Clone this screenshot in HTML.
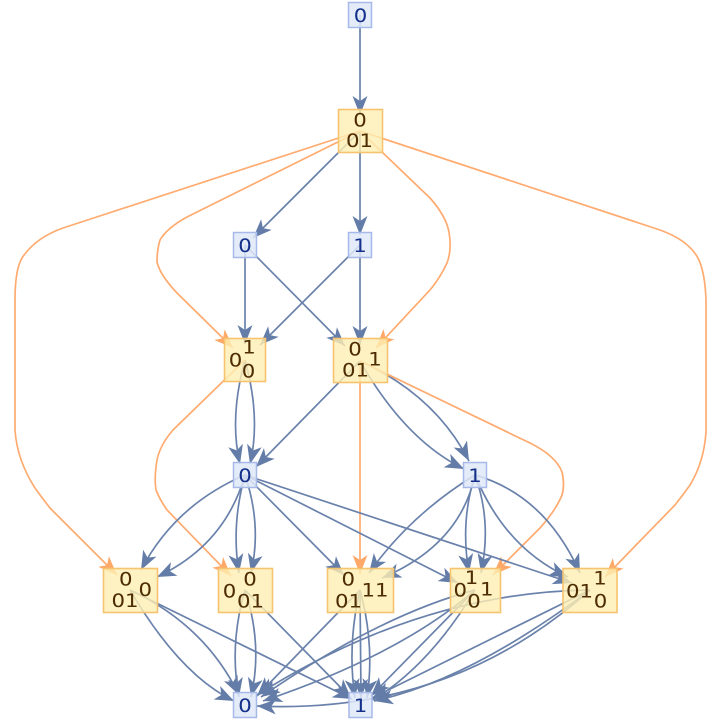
<!DOCTYPE html>
<html><head><meta charset="utf-8">
<style>
html,body{margin:0;padding:0;background:#fff;}
svg{display:block;}
.eb{fill:none;stroke:#6a82ab;stroke-width:1.7;marker-end:url(#mb);}
.eo{fill:none;stroke:#ffab70;stroke-width:1.7;marker-end:url(#mo);}
.nb{fill:#dfe7f8;fill-opacity:0.85;stroke:#a7b9e9;stroke-width:1.5;}
.ny{fill:#ffefb3;fill-opacity:0.8;stroke:#f6c46e;stroke-width:1.6;}
text{font-family:"DejaVu Sans","Liberation Sans",sans-serif;font-size:19px;text-anchor:middle;}
.tb{fill:#14308a;}
.ty{fill:#4e2c02;}
</style></head>
<body>
<svg width="720" height="720" viewBox="0 0 720 720" xmlns="http://www.w3.org/2000/svg">
<defs>
<marker id="mb" markerUnits="userSpaceOnUse" markerWidth="24" markerHeight="20" refX="19" refY="8" orient="auto" overflow="visible"><path d="M0,0.5 L19,8 L0,15.5 L5,8 Z" fill="#637ca8"/></marker>
<marker id="mo" markerUnits="userSpaceOnUse" markerWidth="24" markerHeight="20" refX="19" refY="8" orient="auto" overflow="visible"><path d="M0,0.5 L19,8 L0,15.5 L5,8 Z" fill="#ffa868"/></marker>
</defs>

<!-- edges -->
<path class="eb" d="M360,15 L360,115"/>
<path class="eb" d="M360,131 L253,238"/>
<path class="eb" d="M360,131 L360,235"/>
<path class="eo" d="M360,131 L187,217 Q167,228 160,240 Q157,250 157,262 Q160,275 177,293 L233,348"/>
<path class="eo" d="M360,131 L63,228 Q35,238 22,258 Q15,270 15,300 L15,430 Q17,460 35,488 Q42,498 50,508 L117,575"/>
<path class="eo" d="M360,131 L430,198 Q446,216 449,232 Q452,250 447,263 Q440,278 430,290 L376,348"/>
<path class="eo" d="M360,131 L660,230 Q688,240 698,258 Q705,272 706,300 L706,432 Q704,462 690,485 Q683,495 675,505 L605,577"/>
<path class="eb" d="M245,245 L245,344"/>
<path class="eb" d="M245,245 L345,346"/>
<path class="eb" d="M360,245 L260,345"/>
<path class="eb" d="M360,245 L360,345"/>
<path class="eb" d="M245,360 Q229,418 240,464"/>
<path class="eb" d="M245,360 Q261,418 250,464"/>
<path class="eo" d="M245,360 L173,430 Q160,445 157,460 Q154,478 156,490 Q160,500 167,510 L231,576"/>
<path class="eb" d="M360,361 L256,467"/>
<path class="eo" d="M360,361 L360,574"/>
<path class="eb" d="M360,361 Q405,440 464,469"/>
<path class="eb" d="M360,361 Q435,395 469,461"/>
<path class="eo" d="M360,361 L530,443 Q556,456 562,472 Q565,485 562,495 Q556,510 540,528 L493,575"/>
<path class="eb" d="M245,475 Q175,505 141,570"/>
<path class="eb" d="M245,475 Q225,545 157,577"/>
<path class="eb" d="M245,475 Q231,525 239,573"/>
<path class="eb" d="M245,475 Q262,525 251,573"/>
<path class="eb" d="M245,475 L344,575"/>
<path class="eb" d="M245,475 L458,583"/>
<path class="eb" d="M245,475 L572,583"/>
<path class="eb" d="M475,475 Q410,515 369,573"/>
<path class="eb" d="M475,475 Q460,545 382,578"/>
<path class="eb" d="M475,475 Q460,522 469,573"/>
<path class="eb" d="M475,475 Q492,522 481,573"/>
<path class="eb" d="M475,475 Q505,548 568,577"/>
<path class="eb" d="M475,475 Q545,495 580,573"/>
<path class="eb" d="M130,590 Q180,675 234,701"/>
<path class="eb" d="M130,590 Q205,625 239,695"/>
<path class="eb" d="M130,590 L352,699"/>
<path class="eb" d="M245,590 Q229,645 239,697"/>
<path class="eb" d="M245,590 Q263,645 251,697"/>
<path class="eb" d="M245,590 L351,698"/>
<path class="eb" d="M360,590 L257,696"/>
<path class="eb" d="M360,590 Q347,645 355,698"/>
<path class="eb" d="M360,590 L361,698"/>
<path class="eb" d="M360,590 Q375,645 367,698"/>
<path class="eb" d="M475,590 Q380,615 261,697"/>
<path class="eb" d="M475,590 Q400,655 263,701"/>
<path class="eb" d="M475,590 L371,696"/>
<path class="eb" d="M475,590 Q430,665 373,700"/>
<path class="eb" d="M590,590 Q420,592 257,695"/>
<path class="eb" d="M590,590 Q450,715 257,706"/>
<path class="eb" d="M590,590 L372,698"/>
<path class="eb" d="M590,590 Q470,680 374,701"/>

<!-- nodes -->
<rect class="nb" x="348.5" y="2.5" width="23" height="25"/>
<rect class="ny" x="338.5" y="109.5" width="44" height="43"/>
<rect class="nb" x="233.5" y="232.5" width="23" height="25"/>
<rect class="nb" x="348.5" y="232.5" width="23" height="25"/>
<rect class="ny" x="224.5" y="338.5" width="41" height="43"/>
<rect class="ny" x="333.5" y="338.5" width="54" height="44"/>
<rect class="nb" x="233.5" y="462.5" width="23" height="25"/>
<rect class="nb" x="463.5" y="462.5" width="23" height="25"/>
<rect class="ny" x="103.5" y="568.5" width="54" height="44"/>
<rect class="ny" x="218.5" y="568.5" width="54" height="44"/>
<rect class="ny" x="327.5" y="568.5" width="66" height="44"/>
<rect class="ny" x="450.5" y="568.5" width="50" height="44"/>
<rect class="ny" x="563" y="568.5" width="54" height="44"/>
<rect class="nb" x="233.5" y="692.5" width="23" height="25"/>
<rect class="nb" x="349" y="692.5" width="23" height="25"/>

<!-- labels -->
<text class="tb" transform="translate(360.5,22) scale(1.12,1)">0</text>

<text class="ty" transform="translate(360,126.5) scale(1.12,1)">0</text>
<text class="ty" transform="translate(359.5,147) scale(1.12,1)">01</text>

<text class="tb" transform="translate(245,252) scale(1.12,1)">0</text>
<text class="tb" transform="translate(360,252) scale(1.12,1)">1</text>

<text class="ty" transform="translate(235.5,366.5) scale(1.12,1)">0</text>
<text class="ty" transform="translate(249,353.5) scale(1.12,1)">1</text>
<text class="ty" transform="translate(248.5,377.5) scale(1.12,1)">0</text>

<text class="ty" transform="translate(355,355.5) scale(1.12,1)">0</text>
<text class="ty" transform="translate(355.5,376.5) scale(1.12,1)">01</text>
<text class="ty" transform="translate(375,365.5) scale(1.12,1)">1</text>

<text class="tb" transform="translate(245,482) scale(1.12,1)">0</text>
<text class="tb" transform="translate(475,482) scale(1.12,1)">1</text>

<text class="ty" transform="translate(125.7,585.5) scale(1.12,1)">0</text>
<text class="ty" transform="translate(125,607) scale(1.12,1)">01</text>
<text class="ty" transform="translate(145.3,596) scale(1.12,1)">0</text>

<text class="ty" transform="translate(229.5,597.5) scale(1.12,1)">0</text>
<text class="ty" transform="translate(250,585.5) scale(1.12,1)">0</text>
<text class="ty" transform="translate(250.5,607.5) scale(1.12,1)">01</text>

<text class="ty" transform="translate(348.3,585.5) scale(1.12,1)">0</text>
<text class="ty" transform="translate(348.5,607.5) scale(1.12,1)">01</text>
<text class="ty" transform="translate(375,596.5) scale(1.12,1)">11</text>

<text class="ty" transform="translate(460.3,596.5) scale(1.12,1)">0</text>
<text class="ty" transform="translate(471.5,584) scale(1.12,1)">1</text>
<text class="ty" transform="translate(474,607.5) scale(1.12,1)">0</text>
<text class="ty" transform="translate(486.7,595.5) scale(1.12,1)">1</text>

<text class="ty" transform="translate(579.5,597.5) scale(1.12,1)">01</text>
<text class="ty" transform="translate(600,584.5) scale(1.12,1)">1</text>
<text class="ty" transform="translate(600.5,607.5) scale(1.12,1)">0</text>

<text class="tb" transform="translate(245,712) scale(1.12,1)">0</text>
<text class="tb" transform="translate(360.5,712) scale(1.12,1)">1</text>
</svg>
</body></html>
